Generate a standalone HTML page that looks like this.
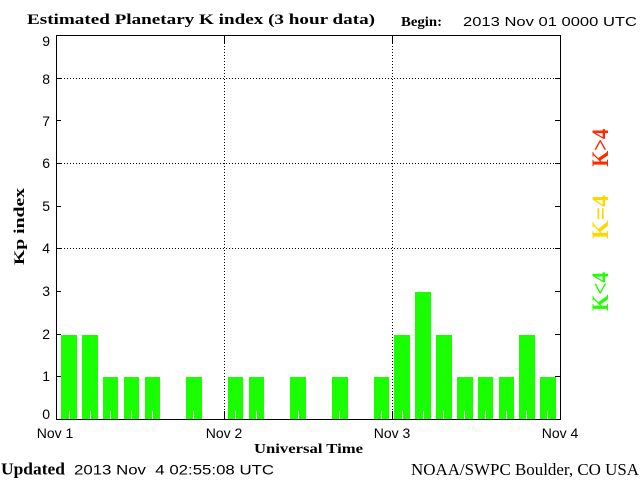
<!DOCTYPE html>
<html><head><meta charset="utf-8"><style>
html,body{margin:0;padding:0;background:#fff;}
svg{display:block;}
.s{font-family:"Liberation Sans",sans-serif;}
.r{font-family:"Liberation Serif",serif;}
</style></head><body>
<svg width="640" height="480" viewBox="0 0 640 480" xmlns="http://www.w3.org/2000/svg">
<rect width="640" height="480" fill="#fff"/>
<!-- bars -->
<g fill="#1aff00">
<rect x="61" y="335" width="16" height="84"/>
<rect x="82" y="335" width="16" height="84"/>
<rect x="103" y="377" width="15" height="42"/>
<rect x="124" y="377" width="15" height="42"/>
<rect x="145" y="377" width="15" height="42"/>
<rect x="186" y="377" width="16" height="42"/>
<rect x="228" y="377" width="15" height="42"/>
<rect x="249" y="377" width="15" height="42"/>
<rect x="290" y="377" width="16" height="42"/>
<rect x="332" y="377" width="16" height="42"/>
<rect x="374" y="377" width="15" height="42"/>
<rect x="394" y="335" width="16" height="84"/>
<rect x="415" y="292" width="16" height="127"/>
<rect x="436" y="335" width="16" height="84"/>
<rect x="457" y="377" width="16" height="42"/>
<rect x="478" y="377" width="15" height="42"/>
<rect x="499" y="377" width="15" height="42"/>
<rect x="519" y="335" width="16" height="84"/>
<rect x="540" y="377" width="16" height="42"/>
</g>
<!-- white minor ticks -->
<g stroke="#fff" stroke-width="1">
<path d="M69.5 411V419M90.5 411V419M110.5 411V419M131.5 411V419M152.5 411V419M193.5 411V419M235.5 411V419M256.5 411V419M298.5 411V419M339.5 411V419M381.5 411V419M402.5 411V419M423.5 411V419M443.5 411V419M464.5 411V419M485.5 411V419M506.5 411V419M526.5 411V419M547.5 411V419"/>
</g>
<!-- dotted grid -->
<g stroke="#000" stroke-width="1" stroke-dasharray="1 2" fill="none">
<path d="M61 78.5H555M61 163.5H555M61 248.5H555"/>
<path d="M224.5 43V411M392.5 43V411"/>
</g>
<!-- axes and ticks -->
<g stroke="#000" stroke-width="1" fill="none">
<rect x="56.5" y="35.5" width="504" height="384"/>
<path d="M56 376.5H61M56 334.5H61M56 291.5H61M56 248.5H61M56 206.5H61M56 163.5H61M56 120.5H61M56 78.5H61"/>
<path d="M555 376.5H560M555 334.5H560M555 291.5H560M555 248.5H560M555 206.5H560M555 163.5H560M555 120.5H560M555 78.5H560"/>
<path d="M224.5 35V43M224.5 411V419M392.5 35V43M392.5 411V419"/>
</g>
<!-- y tick labels -->
<g class="s" font-size="14" text-anchor="end" fill="#000">
<text x="50" y="46">9</text>
<text x="50" y="84">8</text>
<text x="50" y="126">7</text>
<text x="50" y="168">6</text>
<text x="50" y="211">5</text>
<text x="50" y="253">4</text>
<text x="50" y="296">3</text>
<text x="50" y="339">2</text>
<text x="50" y="381">1</text>
<text x="50" y="419">0</text>
</g>
<!-- x tick labels -->
<g class="s" font-size="14" text-anchor="middle" fill="#000">
<text x="55" y="438">Nov 1</text>
<text x="224" y="438">Nov 2</text>
<text x="392" y="438">Nov 3</text>
<text x="560" y="438">Nov 4</text>
</g>
<!-- titles -->
<text class="r" x="27" y="24" font-size="15" font-weight="bold" textLength="348" lengthAdjust="spacingAndGlyphs">Estimated Planetary K index (3 hour data)</text>
<text class="r" x="401" y="26" font-size="14" font-weight="bold" textLength="41" lengthAdjust="spacingAndGlyphs">Begin:</text>
<text class="s" x="463" y="26" font-size="13" textLength="174" lengthAdjust="spacingAndGlyphs">2013 Nov 01 0000 UTC</text>
<text class="r" x="254" y="453" font-size="14" font-weight="bold" textLength="109" lengthAdjust="spacingAndGlyphs">Universal Time</text>
<text class="r" x="1" y="474.5" font-size="17" font-weight="bold" textLength="64" lengthAdjust="spacingAndGlyphs">Updated</text>
<text class="s" x="74" y="474.5" font-size="14" textLength="200" lengthAdjust="spacingAndGlyphs" style="white-space:pre">2013 Nov  4 02:55:08 UTC</text>
<text class="r" x="411" y="475" font-size="17" textLength="228" lengthAdjust="spacingAndGlyphs">NOAA/SWPC Boulder, CO USA</text>
<text class="r" transform="translate(24,265) rotate(-90)" font-size="15" font-weight="bold" textLength="77" lengthAdjust="spacingAndGlyphs">Kp index</text>
<!-- legend -->
<text class="r" transform="translate(608,166.7) rotate(-90)" font-size="23" font-weight="bold" fill="#ff2a00" textLength="38" lengthAdjust="spacingAndGlyphs">K&gt;4</text>
<text class="r" transform="translate(608,239) rotate(-90)" font-size="23" font-weight="bold" fill="#ffd700" textLength="44" lengthAdjust="spacingAndGlyphs">K=4</text>
<text class="r" transform="translate(608,311) rotate(-90)" font-size="23" font-weight="bold" fill="#22ff00" textLength="39" lengthAdjust="spacingAndGlyphs">K&lt;4</text>
</svg>
</body></html>
